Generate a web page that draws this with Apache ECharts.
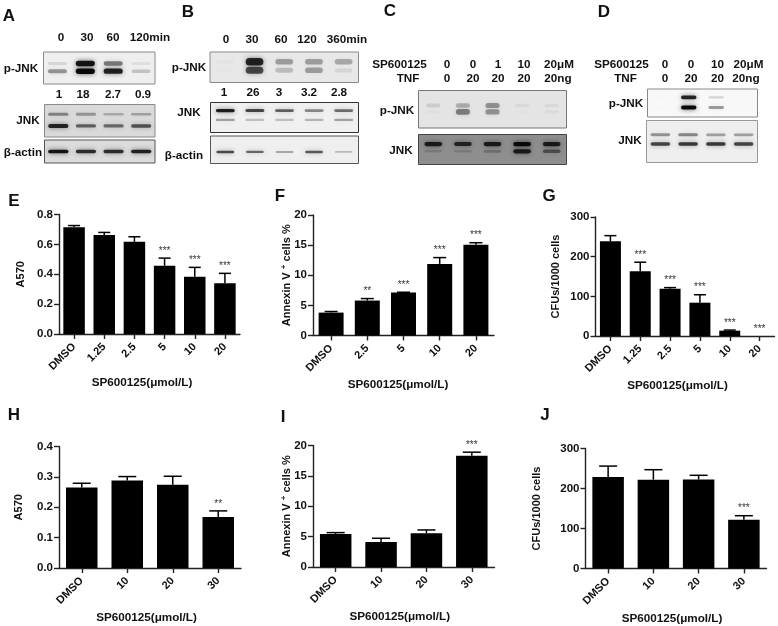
<!DOCTYPE html>
<html>
<head>
<meta charset="utf-8">
<style>html,body{margin:0;padding:0;background:#fff}#c{width:778px;height:626px}</style>
<script src="https://cdn.jsdelivr.net/npm/echarts@6/dist/echarts.min.js"></script>
</head>
<body>
<div id="c"></div>
<script>
// ---------- chart data ----------
const catsE = ['DMSO','1.25','2.5','5','10','20'];
const valsE = [0.715,0.662,0.617,0.457,0.383,0.339];
const errE  = [0.726,0.680,0.651,0.508,0.446,0.406];
const sigE  = ['','','','***','***','***'];

const catsF = ['DMSO','2.5','5','10','20'];
const valsF = [3.8,5.8,7.13,11.88,15.08];
const errF  = [3.98,6.13,7.18,12.93,15.4];
const sigF  = ['','**','***','***','***'];

const catsG = ['DMSO','1.25','2.5','5','10','20'];
const valsG = [238.7,163,119,84,13.4,0];
const errG  = [253,186,122,104,15,0];
const sigG  = ['','***','***','***','***','***'];

const catsH = ['DMSO','10','20','30'];
const valsH = [0.265,0.288,0.274,0.168];
const errH  = [0.279,0.301,0.302,0.188];
const sigH  = ['','','','**'];

const catsI = ['DMSO','10','20','30'];
const valsI = [5.44,4.12,5.55,18.3];
const errI  = [5.66,4.73,6.1,18.9];
const sigI  = ['','','','***'];

const catsJ = ['DMSO','10','20','30'];
const valsJ = [229,222,222.5,122];
const errJ  = [256,247,233,132];
const sigJ  = ['','','','***'];

// ---------- blot band intensities per lane ----------
const aPjnkUpper = [0.2,0.95,0.6,0.15];
const aPjnkLower = [0.5,1,0.9,0.3];
const aJnkUpper  = [0.6,0.5,0.4,0.45];
const aJnkLower  = [1,0.75,0.7,0.8];
const aActin     = [0.95,0.85,0.85,0.9];
const bPjnkUpper = [0.08,1,0.5,0.5,0.45];
const bPjnkLower = [0.05,0.85,0.35,0.5,0.2];
const bJnkUpper  = [1,0.85,0.75,0.6,0.7];
const bJnkLower  = [0.5,0.35,0.35,0.4,0.5];
const bActin     = [0.8,0.7,0.45,0.75,0.35];
const cPjnkUpper = [0.25,0.45,0.6,0.15,0.15];
const cPjnkLower = [0.08,0.7,0.6,0.05,0.12];
const cJnkUpper  = [0.9,0.85,0.9,1,0.9];
const cJnkLower  = [0.25,0.25,0.35,0.9,0.6];
const dPjnkUpper = [0.03,0.9,0.25,0];
const dPjnkLower = [0.05,1,0.5,0.02];
const dJnkUpper  = [0.55,0.6,0.5,0.5];
const dJnkLower  = [0.85,0.9,0.9,0.85];

// ---------- text labels ----------
const lanesA = ['0','30','60','120min'];
const quantA = ['1','18','2.7','0.9'];
const lanesB = ['0','30','60','120','360min'];
const quantB = ['1','26','3','3.2','2.8'];
const spC = ['0','0','1','10','20μM'];
const tnfC = ['0','20','20','20','20ng'];
const spD = ['0','0','10','20μM'];
const tnfD = ['0','20','20','20ng'];

// ---------- layout ----------
const FONT = '"Liberation Sans", Arial, sans-serif';
const xName = 'SP600125(μmol/L)';
const annexin = '{a|Annexin V }{s|+}{a| cells %}';

const panels = [
  {cats:catsE,vals:valsE,err:errE,sig:sigE,l:59,t:214.5,w:181,h:119.5,max:0.8,step:0.2,dec:1,bar:21.5,cap:12,name:'A570',gap:33,gapX:43,shift:15},
  {cats:catsF,vals:valsF,err:errF,sig:sigF,l:313,t:215,w:181,h:120.5,max:20,step:5,dec:0,bar:25,cap:13,name:annexin,gap:20,gapX:43,shift:11},
  {cats:catsG,vals:valsG,err:errG,sig:sigG,l:595.5,t:217,w:179,h:119,max:300,step:100,dec:0,bar:21,cap:12,name:'CFUs/1000 cells',gap:34,gapX:44,shift:15},
  {cats:catsH,vals:valsH,err:errH,sig:sigH,l:59,t:446.5,w:182,h:121.5,max:0.4,step:0.1,dec:1,bar:31.5,cap:18,name:'A570',gap:35,gapX:44,shift:7},
  {cats:catsI,vals:valsI,err:errI,sig:sigI,l:313,t:445.5,w:181.5,h:121.5,max:20,step:5,dec:0,bar:31.5,cap:18,name:annexin,gap:20,gapX:44,shift:8},
  {cats:catsJ,vals:valsJ,err:errJ,sig:sigJ,l:585.5,t:448.5,w:181,h:120,max:300,step:100,dec:0,bar:31.5,cap:18,name:'CFUs/1000 cells',gap:43,gapX:44,shift:8}
];

const blots = [
  {x:43.5,y:52,w:111.5,h:32,bg:'#efefef',bd:'#8a8a8a',th:5,band:.9,k:.95,rows:[[aPjnkUpper,.64],[aPjnkLower,.40]]},
  {x:44.5,y:104.5,w:110.5,h:32.5,bg:'#dadada',bd:'#8a8a8a',th:3.5,band:.95,k:.8,rows:[[aJnkUpper,.70],[aJnkLower,.34]]},
  {x:44.5,y:140,w:110.5,h:23,bg:'#dcdcdc',bd:'#555',th:3.5,band:.95,k:.95,rows:[[aActin,.50]]},
  {x:210,y:52,w:148.5,h:30.5,bg:'#e8e8e8',bd:'#8a8a8a',th:7,band:.8,k:.8,rows:[[bPjnkUpper,.68],[bPjnkLower,.40]]},
  {x:210.5,y:102.5,w:148,h:30,bg:'#f0f0f0',bd:'#333',th:3,band:.84,k:.85,rows:[[bJnkUpper,.73],[bJnkLower,.42]]},
  {x:210.5,y:136,w:148,h:27.5,bg:'#efefef',bd:'#555',th:2.5,band:.8,k:.9,rows:[[bActin,.42]]},
  {x:418.5,y:90.5,w:148,h:37.5,bg:'#e4e4e4',bd:'#777',th:6,band:.68,k:.7,rows:[[cPjnkUpper,.60],[cPjnkLower,.43]]},
  {x:418.5,y:134.5,w:148,h:30,bg:'#8e8e8e',bd:'#444',th:4,band:.8,k:.9,rows:[[cJnkUpper,.68],[cJnkLower,.44]]},
  {x:647.5,y:89,w:110,h:28,bg:'#f8f8f8',bd:'#888',th:3.5,band:.78,k:.95,rows:[[dPjnkUpper,.70],[dPjnkLower,.34]]},
  {x:646.5,y:120.5,w:111,h:42,bg:'#efefef',bd:'#999',th:3.5,band:.92,k:.85,rows:[[dJnkUpper,.66],[dJnkLower,.44]]}
];

// ---------- free text ----------
const graphic = [];
function T(x,y,str,size,color){
  graphic.push({type:'text',x:x,y:y,silent:true,z:10,style:{text:str,fill:color||'#111',align:'center',verticalAlign:'middle',
    fontFamily:'Liberation Sans',fontWeight:'bold',fontSize:size||11.7}});
}
function row(xs,y,labels){labels.forEach((s,i)=>T(xs[i],y,s));}
[['A',9,16.5],['B',188,12.5],['C',390,11],['D',604,12.5],['E',14,201],['F',280,196],['G',549,196],['H',14,415],['I',283,417],['J',545,415]]
  .forEach(p=>T(p[1],p[2],p[0],17));
row([61,87,113,150],37.5,lanesA);
row([59,83,113,143],95,quantA);
T(21,69,'p-JNK');T(28,121,'JNK');T(23,153,'β-actin');
row([226,252,281,307,347],40,lanesB);
row([224,253,279,309,339],93,quantB);
T(189,68,'p-JNK');T(189,112.5,'JNK');T(184,155.5,'β-actin');
T(399.5,64.5,'SP600125');T(408,79,'TNF');
row([447,473,498,524,559],64.5,spC);
row([447,473,498,524,558],79,tnfC);
T(397,110.5,'p-JNK');T(401,150.5,'JNK');
T(621.5,64.5,'SP600125');T(625.5,79,'TNF');
row([665,691,717.5,748.5],64.5,spD);
row([665,691,717.5,746],79,tnfD);
T(626,104,'p-JNK');T(630,141,'JNK');

// ---------- option ----------
const grid=[],xAxis=[],yAxis=[],series=[];
panels.forEach(p=>{
  const g=grid.length;
  grid.push({left:p.l,top:p.t,width:p.w,height:p.h,containLabel:false});
  const line={lineStyle:{color:'#222',width:1.4}};
  xAxis.push({gridIndex:g,type:'category',data:p.cats,
    axisLine:{show:true,...line},axisTick:{show:true,alignWithLabel:true,length:5,...line},
    axisLabel:{rotate:45,interval:0,margin:11,padding:[3,0,0,0],color:'#111',fontFamily:FONT,fontWeight:'bold',fontSize:11},
    name:xName,nameLocation:'middle',nameGap:p.gapX,nameMoveOverlap:false,
    nameTextStyle:{color:'#111',fontFamily:FONT,fontWeight:'bold',fontSize:11.7,padding:[0,p.shift,0,0]}});
  yAxis.push({gridIndex:g,type:'value',min:0,max:p.max,interval:p.step,splitLine:{show:false},
    axisLine:{show:true,...line},axisTick:{show:true,length:5,...line},
    axisLabel:{margin:6,color:'#111',fontFamily:FONT,fontWeight:'bold',fontSize:11.5,formatter:v=>v.toFixed(p.dec)},
    name:p.name,nameLocation:'middle',nameRotate:90,nameGap:p.gap,nameMoveOverlap:false,
    nameTextStyle:{color:'#111',fontFamily:FONT,fontWeight:'bold',fontSize:11,
      rich:{a:{fontFamily:FONT,fontWeight:'bold',fontSize:11,color:'#111'},s:{fontFamily:FONT,fontSize:8,fontWeight:'bold',color:'#111',padding:[0,0,5,0]}}}});
  series.push({type:'bar',xAxisIndex:g,yAxisIndex:g,data:p.vals,barWidth:p.bar,itemStyle:{color:'#000'},silent:true,z:2});
  series.push({type:'custom',xAxisIndex:g,yAxisIndex:g,silent:true,z:3,clip:false,
    data:p.vals.map((v,i)=>[i,v,p.err[i],p.sig[i]]),
    renderItem:(params,api)=>{
      const a=api.coord([api.value(0),api.value(1)]),b=api.coord([api.value(0),api.value(2)]);
      const st={stroke:'#000',lineWidth:1.5};
      const kids=[];
      if(api.value(1)>0){
        kids.push({type:'line',shape:{x1:a[0],y1:a[1],x2:a[0],y2:b[1]},style:st});
        kids.push({type:'line',shape:{x1:a[0]-p.cap/2,y1:b[1],x2:a[0]+p.cap/2,y2:b[1]},style:st});
      }
      const s=p.sig[params.dataIndex];
      if(s)kids.push({type:'text',x:a[0],y:b[1]-7,style:{text:s,fill:'#333',align:'center',verticalAlign:'middle',fontFamily:'Liberation Sans',fontSize:10}});
      return {type:'group',children:kids};
    }});
});
blots.forEach(b=>{
  const g=grid.length;
  const n=b.rows[0][0].length;
  grid.push({left:b.x,top:b.y,width:b.w,height:b.h,show:true,backgroundColor:b.bg,borderColor:b.bd,borderWidth:1,containLabel:false});
  xAxis.push({gridIndex:g,type:'category',data:[...Array(n).keys()],show:false});
  yAxis.push({gridIndex:g,type:'value',min:0,max:1,show:false});
  const data=[];
  b.rows.forEach(r=>r[0].forEach((v,i)=>data.push([i,r[1],v])));
  series.push({type:'custom',xAxisIndex:g,yAxisIndex:g,silent:true,clip:true,data:data,
    renderItem:(params,api)=>{
      const c=api.coord([api.value(0),api.value(1)]);
      const w=api.size([1,0])[0]*b.band, v=api.value(2), h=b.th*(0.5+0.6*v);
      const fa=Math.min(1,Math.pow(v,1.4)*b.k), col='rgba(0,0,0,'+fa.toFixed(2)+')', sh='rgba(0,0,0,'+(fa*0.7).toFixed(2)+')';
      return {type:'rect',shape:{x:c[0]-w/2+3,y:c[1]-h/2,width:w-6,height:h,r:h/2},
        style:{fill:col,shadowBlur:5,shadowColor:sh}};
    }});
});
const chart=echarts.init(document.getElementById('c'),null,{renderer:'canvas'});
chart.setOption({animation:false,backgroundColor:'#fff',grid,xAxis,yAxis,series,graphic});
</script>
</body>
</html>
